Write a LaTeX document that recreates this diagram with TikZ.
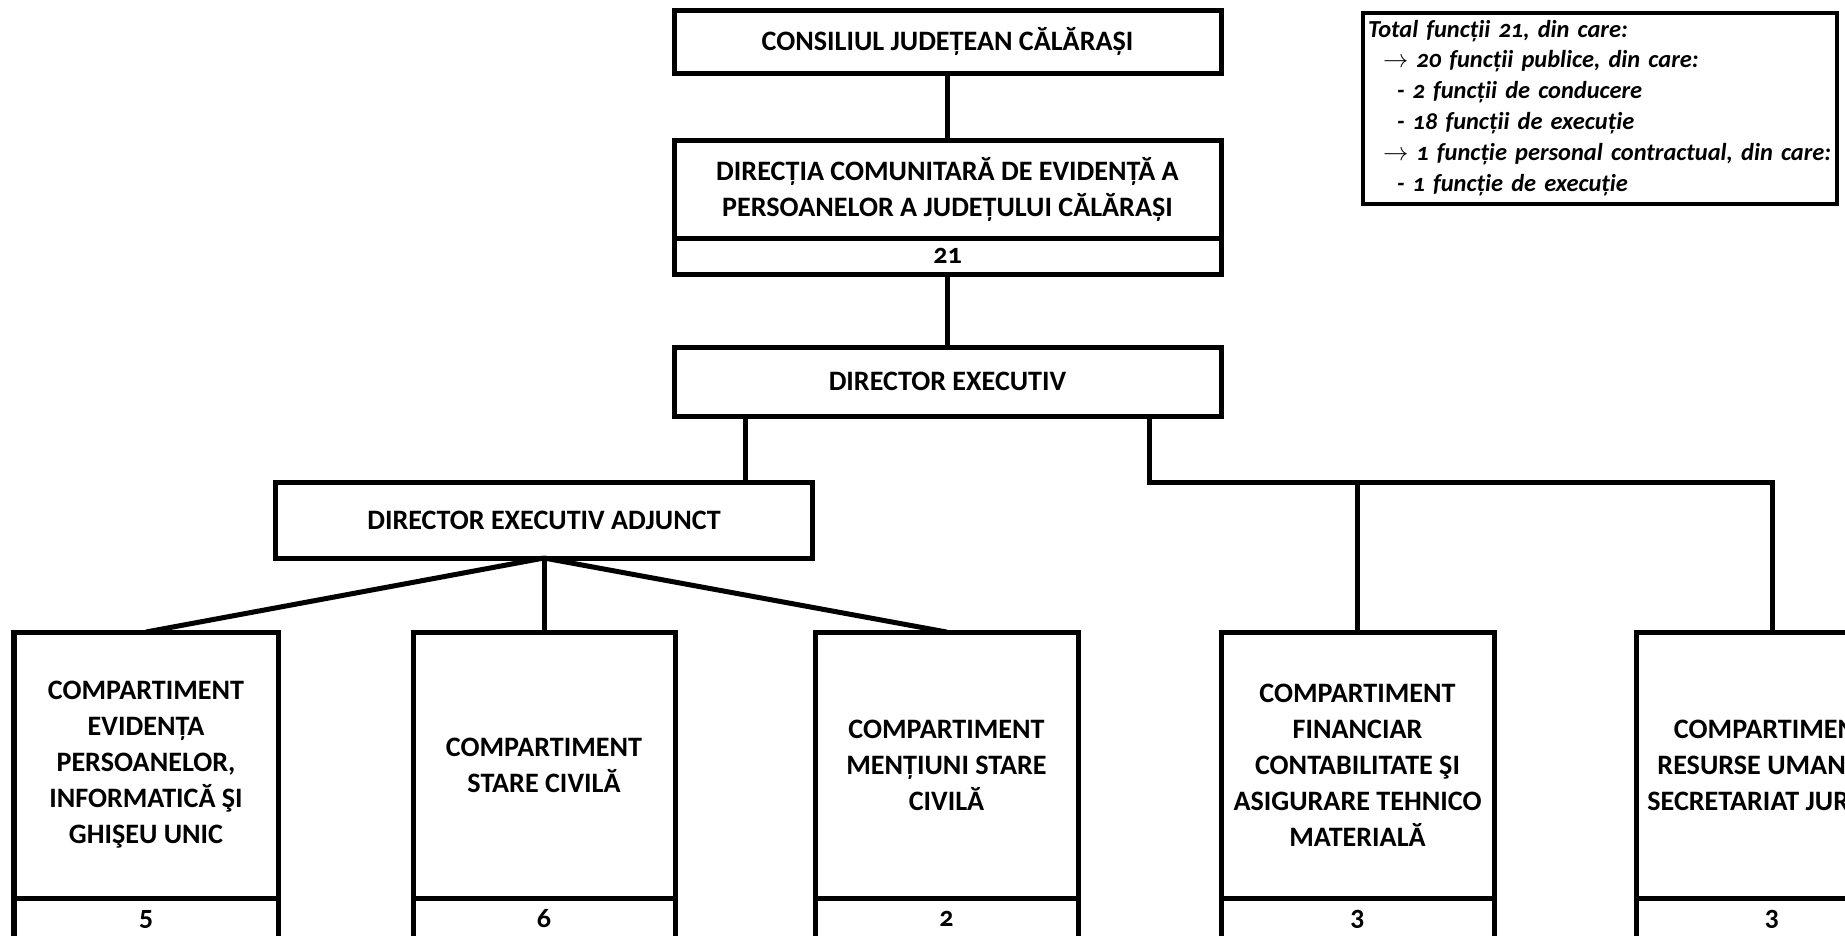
\documentclass[tikz,border=0pt]{standalone}
\usepackage{fontspec}
\setmainfont{Carlito}[Numbers=OldStyle]
\usepackage{tikz}
\usetikzlibrary{positioning}

\begin{document}
\begin{tikzpicture}[
  box/.style={rectangle,draw=black,fill=white,line width=0.1cm,outer sep=0pt,
    inner sep=2pt,align=center,font=\bfseries\fontsize{16}{20.5}\selectfont},
  num/.style={box,minimum height=0.84cm},
  link/.style={line width=0.1cm,black},
  note/.style={rectangle,draw=black,line width=0.08cm,outer sep=0pt,inner xsep=0.1cm,
    text width=9.28cm,minimum height=3.82cm,align=left,
    font=\bfseries\itshape\fontsize{13.9}{17.6}\selectfont}]

\useasboundingbox (0,0) rectangle (36.9,-18.7);
\clip (0,0) rectangle (36.9,-18.7);

% top of the chart
\node[box,minimum width=10.94cm,minimum height=1.25cm] (consiliu) at (18.95,-0.835) {CONSILIUL JUDEȚEAN CĂLĂRAȘI};
\node[box,minimum width=10.94cm,minimum height=1.96cm] (directia) at (18.95,-3.78)
  {DIRECȚIA COMUNITARĂ DE EVIDENȚĂ A\\PERSOANELOR A JUDEȚULUI CĂLĂRAȘI};
\node[box,minimum width=10.94cm,minimum height=0.72cm,below=0pt of directia] (directianr) {21};
\node[box,minimum width=10.94cm,minimum height=1.38cm] (dexec) at (18.95,-7.63) {DIRECTOR EXECUTIV};
\node[box,minimum width=10.74cm,minimum height=1.52cm] (dadj) at (10.88,-10.4) {DIRECTOR EXECUTIV ADJUNCT};

% compartimente
\node[box,minimum width=5.28cm,minimum height=5.32cm] (cep) at (2.92,-15.3)
  {COMPARTIMENT\\EVIDENȚA\\PERSOANELOR,\\INFORMATICĂ ŞI\\GHIŞEU UNIC};
\node[box,minimum width=5.24cm,minimum height=5.32cm] (csc) at (10.88,-15.3)
  {COMPARTIMENT\\STARE CIVILĂ};
\node[box,minimum width=5.26cm,minimum height=5.32cm] (cmsc) at (18.93,-15.3)
  {COMPARTIMENT\\MENȚIUNI STARE\\CIVILĂ};
\node[box,minimum width=5.46cm,minimum height=5.32cm] (cfc) at (27.15,-15.3)
  {COMPARTIMENT\\FINANCIAR\\CONTABILITATE ŞI\\ASIGURARE TEHNICO\\MATERIALĂ};
\node[box,minimum width=5.44cm,minimum height=5.32cm] (cru) at (35.44,-15.3)
  {COMPARTIMENT\\RESURSE UMANE ŞI\\SECRETARIAT JURIDIC};

\foreach \c/\w/\n in {cep/5.28/5,csc/5.24/6,cmsc/5.26/2,cfc/5.46/3,cru/5.44/3}
  \node[num,minimum width=\w cm,below=0pt of \c] (\c nr) {\n};

% legend
\node[note] (legend) at (32.0,-2.16) {Total funcții 21, din care:\\
  \hspace*{3mm}$\rightarrow$ 20 funcții publice, din care:\\
  \hspace*{5.8mm}- 2 funcții de conducere\\
  \hspace*{5.8mm}- 18 funcții de execuție\\
  \hspace*{3mm}\mbox{$\rightarrow$ 1 funcție personal contractual, din care:}\\
  \hspace*{5.8mm}- 1 funcție de execuție};

\draw[link] (consiliu) -- (directia);
\draw[link] (directianr) -- (dexec);
\draw[link] ([xshift=-4.04cm]dexec.south) -- ([xshift=-4.04cm]dexec.south |- dadj.north);
\draw[link] ([xshift=4.04cm]dexec.south) |- ([yshift=3cm]cru.north) -- (cru.north);
\draw[link] ([yshift=3cm]cfc.north) -- (cfc.north);
\draw[link] (dadj.south) -- (cep.north);
\draw[link] (dadj.south) -- (csc.north);
\draw[link] (dadj.south) -- (cmsc.north);
\end{tikzpicture}
\end{document}
